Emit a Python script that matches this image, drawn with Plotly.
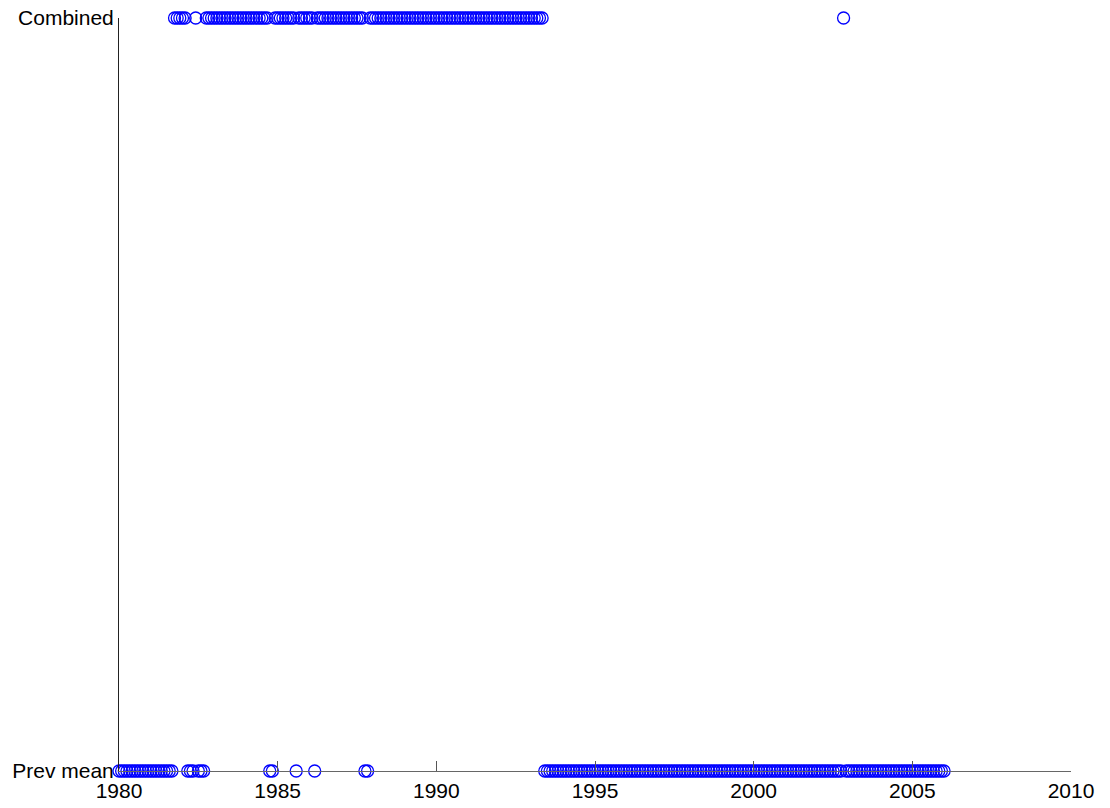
import plotly.graph_objects as go

# Monthly series, January 1980 through January 2006
first_year, first_month = 1980, 1
last_year, last_month = 2006, 1

# Category labels on the vertical axis (bottom to top)
categories = ["Prev mean", "Combined"]

# Months whose estimate came from the combined method (inclusive ranges);
# every other month uses the previous mean
combined_periods = [
    ((1981, 10), (1982, 2)),
    ((1982, 6), (1982, 6)),
    ((1982, 10), (1984, 9)),
    ((1984, 12), (1985, 7)),
    ((1985, 9), (1986, 2)),
    ((1986, 4), (1987, 9)),
    ((1987, 12), (1993, 5)),
    ((2002, 11), (2002, 11)),
]

x_ticks = [1980, 1985, 1990, 1995, 2000, 2005, 2010]

# Build the monthly time axis and the method used for each month
months = []
y, m = first_year, first_month
while (y, m) <= (last_year, last_month):
    months.append((y, m))
    m += 1
    if m > 12:
        y, m = y + 1, 1


def method_for(ym):
    for start, end in combined_periods:
        if start <= ym <= end:
            return "Combined"
    return "Prev mean"


methods = [method_for(ym) for ym in months]
x_vals = [yy + (mm - 1) / 12 for yy, mm in months]
y_vals = [categories.index(c) for c in methods]

fig = go.Figure(
    go.Scatter(
        x=x_vals,
        y=y_vals,
        mode="markers",
        marker=dict(symbol="circle-open", size=12, color="#0000ff",
                    line=dict(width=1.3, color="#0000ff")),
        cliponaxis=False,
        showlegend=False,
    )
)

fig.update_layout(
    width=1110,
    height=808,
    paper_bgcolor="white",
    plot_bgcolor="white",
    margin=dict(l=119, r=39, t=18, b=37, autoexpand=False),
    font=dict(family="Liberation Sans, Arial, sans-serif", size=21, color="black"),
)

fig.update_xaxes(
    range=[1980, 2010],
    tickvals=x_ticks,
    ticktext=[str(t) for t in x_ticks],
    showline=True,
    linecolor="#666666",
    linewidth=1,
    ticks="inside",
    ticklen=10,
    tickcolor="#555555",
    ticklabelstandoff=1,
    showgrid=False,
    zeroline=False,
    automargin=False,
)

fig.update_yaxes(
    range=[0, 1],
    tickvals=[0, 1],
    ticktext=categories,
    showline=True,
    linecolor="#222222",
    linewidth=1,
    ticks="inside",
    ticklen=9,
    tickcolor="#222222",
    showgrid=False,
    zeroline=False,
    automargin=False,
)

fig.write_html("out.html")
